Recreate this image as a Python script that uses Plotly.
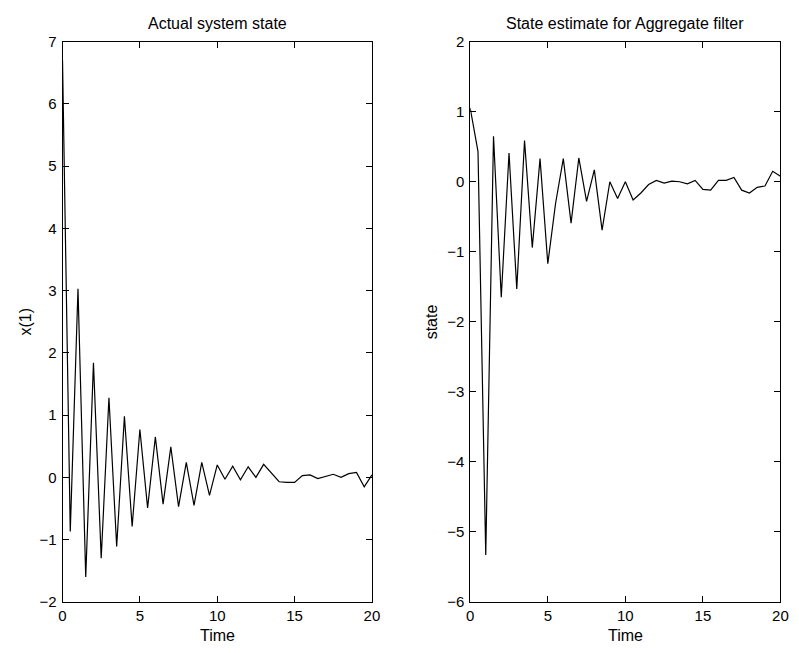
import plotly.graph_objects as go

time = [i * 0.5 for i in range(41)]

actual_state = [6.7, -0.87, 3.03, -1.60, 1.84, -1.30, 1.28, -1.11, 0.98, -0.79,
                0.77, -0.49, 0.65, -0.43, 0.49, -0.47, 0.24, -0.45, 0.24, -0.29,
                0.20, -0.03, 0.18, -0.04, 0.17, 0.0, 0.21, 0.07, -0.07, -0.08,
                -0.08, 0.03, 0.04, -0.02, 0.02, 0.05, 0.0, 0.06, 0.08, -0.15, 0.04]

estimate = [1.05, 0.43, -5.33, 0.65, -1.65, 0.41, -1.53, 0.59, -0.94, 0.33,
            -1.17, -0.31, 0.33, -0.59, 0.34, -0.28, 0.17, -0.69, 0.0, -0.24,
            0.0, -0.26, -0.16, -0.04, 0.02, -0.02, 0.01, 0.0, -0.03, 0.02,
            -0.11, -0.12, 0.02, 0.02, 0.06, -0.12, -0.16, -0.08, -0.06, 0.15, 0.08]

left_yticks = [-2, -1, 0, 1, 2, 3, 4, 5, 6, 7]
right_yticks = [-6, -5, -4, -3, -2, -1, 0, 1, 2]
xticks = [0, 5, 10, 15, 20]

# page body has an 8px default margin; size the figure so it fits the window
OFF = 8
W, H = 799 - OFF, 653 - OFF
font = dict(family="Liberation Sans, Arial, Helvetica, sans-serif", size=16, color="black")
tickfont = dict(family="Liberation Sans, Arial, Helvetica, sans-serif", size=15, color="black")


def px_x(p):
    return (p - OFF) / W


def px_y(p):
    return 1 - (p - OFF) / H


fig = go.Figure()
fig.add_trace(go.Scatter(x=time, y=actual_state, mode="lines",
                         line=dict(color="black", width=1.2), xaxis="x", yaxis="y",
                         showlegend=False))
fig.add_trace(go.Scatter(x=time, y=estimate, mode="lines",
                         line=dict(color="black", width=1.2), xaxis="x2", yaxis="y2",
                         showlegend=False))

ydom = [px_y(608.7), px_y(33.4)]
xdom1 = [px_x(59.3), px_x(373.5)]
xdom2 = [px_x(473.3), px_x(788.3)]

axis_common = dict(showline=True, linecolor="black", linewidth=1, mirror="ticks",
                   ticks="inside", ticklen=6, tickcolor="black", tickwidth=1,
                   showgrid=False, zeroline=False, tickfont=tickfont,
                   ticklabeloverflow="allow")

fig.update_layout(
    width=W, height=H,
    margin=dict(l=0, r=0, t=0, b=0),
    paper_bgcolor="white", plot_bgcolor="white",
    font=font,
    xaxis=dict(domain=xdom1, range=[0, 20], tickvals=xticks, anchor="y", ticklabelstandoff=0, **axis_common),
    yaxis=dict(domain=ydom, range=[-2, 7], tickvals=left_yticks, anchor="x", ticklabelstandoff=2, **axis_common),
    xaxis2=dict(domain=xdom2, range=[0, 20], tickvals=xticks, anchor="y2", ticklabelstandoff=0, **axis_common),
    yaxis2=dict(domain=ydom, range=[-6, 2], tickvals=right_yticks, anchor="x2", ticklabelstandoff=2, **axis_common),
)


def note(text, x, y, angle=0):
    return dict(text=text, x=x, y=y, xref="paper", yref="paper", showarrow=False,
                font=font, xanchor="center", yanchor="middle", textangle=angle)


ann = [
    note("Actual system state", (xdom1[0] + xdom1[1]) / 2, px_y(15)),
    note("State estimate for Aggregate filter", (xdom2[0] + xdom2[1]) / 2, px_y(15)),
    note("Time", (xdom1[0] + xdom1[1]) / 2, px_y(643)),
    note("Time", (xdom2[0] + xdom2[1]) / 2, px_y(643)),
    note("x(1)", px_x(22), (ydom[0] + ydom[1]) / 2, -90),
    note("state", px_x(434), (ydom[0] + ydom[1]) / 2, -90),
]
fig.update_layout(annotations=ann)

fig.write_html("out.html")
